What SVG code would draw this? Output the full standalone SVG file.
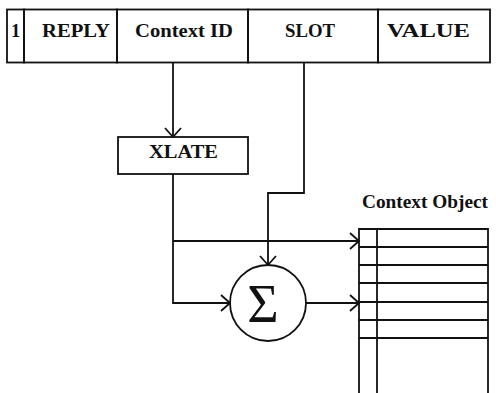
<svg xmlns="http://www.w3.org/2000/svg" width="496" height="393" viewBox="0 0 496 393">
<style>
.b{fill:none;stroke:#111;stroke-width:1.8}
.t{font-family:"Liberation Serif",serif;font-weight:bold;font-size:18.5px;fill:#111;text-anchor:middle}
.c{fill:none;stroke:#111;stroke-width:1.8}
</style>
<defs>
<marker id="ah" markerUnits="userSpaceOnUse" markerWidth="14" markerHeight="20" viewBox="-10 -10 14 20" refX="0" refY="0" orient="auto">
<path d="M-9,-8 L0,0 L-9,8" fill="none" stroke="#111" stroke-width="1.8"/>
</marker>
</defs>
<rect width="496" height="393" fill="#fff"/>
<g id="header">
<g id="field-1"><rect class="b" x="7" y="9.5" width="17" height="53"/><text class="t" x="15.5" y="37" font-size="15">1</text></g>
<g id="field-reply"><rect class="b" x="24" y="9.5" width="93" height="53"/><text class="t" x="76" y="37" textLength="68" lengthAdjust="spacingAndGlyphs">REPLY</text></g>
<g id="field-context-id"><rect class="b" x="117" y="9.5" width="131" height="53"/><text class="t" x="184" y="37" textLength="98" lengthAdjust="spacingAndGlyphs">Context ID</text></g>
<g id="field-slot"><rect class="b" x="248" y="9.5" width="130" height="53"/><text class="t" x="310" y="37" textLength="50" lengthAdjust="spacingAndGlyphs">SLOT</text></g>
<g id="field-value"><rect class="b" x="378" y="9.5" width="112" height="53"/><text class="t" x="428.5" y="37" textLength="83" lengthAdjust="spacingAndGlyphs">VALUE</text></g>
</g>
<g id="xlate"><rect class="b" x="118" y="137" width="130" height="37"/><text class="t" x="183.5" y="157.5" textLength="69" lengthAdjust="spacingAndGlyphs">XLATE</text></g>
<g id="sum"><circle class="b" cx="268" cy="303" r="38"/><text x="263" y="322" font-family="Liberation Serif,serif" font-size="54" fill="#111" text-anchor="middle">Σ</text></g>
<g id="context-object">
<text class="t" x="425" y="208" font-size="17" textLength="126" lengthAdjust="spacingAndGlyphs">Context Object</text>
<path class="b" d="M359,393 V229 H488 V393 M377,229 V393 M359,247 H488 M359,265 H488 M359,283 H488 M359,302 H488 M359,320 H488 M359,338 H488"/>
</g>
<g id="connectors">
<path class="c" d="M173,63 V137" marker-end="url(#ah)"/>
<path class="c" d="M173,174 V303 H230" marker-end="url(#ah)"/>
<path class="c" d="M173,241 H359" marker-end="url(#ah)"/>
<path class="c" d="M304,63 V193 H268 V265" marker-end="url(#ah)"/>
<path class="c" d="M306,303 H359" marker-end="url(#ah)"/>
</g>
</svg>
